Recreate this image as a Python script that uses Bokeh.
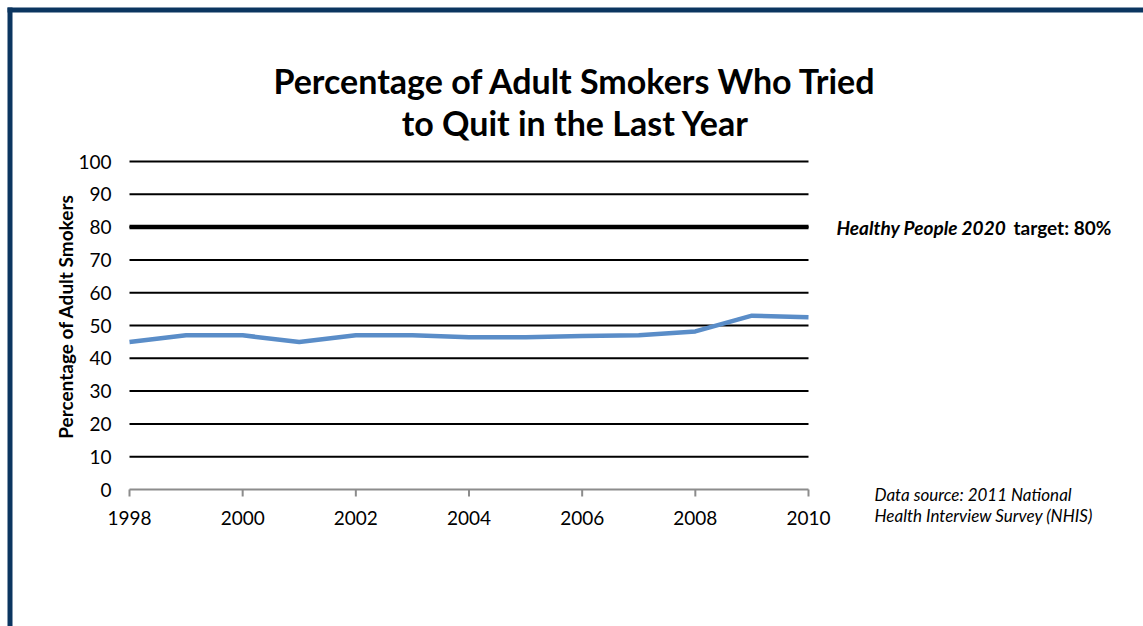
from math import pi
from bokeh.plotting import figure
from bokeh.models import Range1d, Label
from bokeh.core.properties import value
from bokeh.embed import file_html
from bokeh.resources import INLINE

# Survey years and share of adult smokers who tried to quit (%)
years = [1998, 1999, 2000, 2001, 2002, 2003, 2004, 2005, 2006, 2007, 2008, 2009, 2010]
quit_attempts = [45.0, 47.0, 47.0, 45.0, 47.0, 47.0, 46.4, 46.4, 46.8, 47.0, 48.2, 53.0, 52.5]
target_value = 80
x_ticks = [1998, 2000, 2002, 2004, 2006, 2008, 2010]
x_tick_labels = ["1998", "2000", "2002", "2004", "2006", "2008", "2010"]
y_ticks = [0, 10, 20, 30, 40, 50, 60, 70, 80, 90, 100]
y_tick_labels = ["0", "10", "20", "30", "40", "50", "60", "70", "80", "90", "100"]

W, H = 1143, 626
FL, FR, FT, FB = 129, 808, 161, 489   # chart area edges in pixels
FONT = "Lato"

x0, x1 = years[0], years[-1]
y0, y1 = y_ticks[0], y_ticks[-1]
px_x = (FR - FL) / (x1 - x0)
px_y = (FB - FT) / (y1 - y0)

def dx(px):
    return x0 + (px - FL) / px_x

def dy(py):
    return y0 + (FB - py) / px_y

# the plotting frame spans the whole canvas; the chart area sits inside it
p = figure(width=W, height=H, output_backend="svg", toolbar_location=None,
           x_range=Range1d(dx(0), dx(W)), y_range=Range1d(dy(H), dy(0)),
           x_axis_location=None, y_axis_location=None,
           min_border=0)
p.grid.visible = False
p.outline_line_color = None
p.background_fill_color = "white"
p.border_fill_color = "white"

# horizontal rules every 10 points (the 0 line is the x axis)
grid_vals = y_ticks[1:]
p.segment(x0=[x0] * len(grid_vals), x1=[x1] * len(grid_vals), y0=grid_vals, y1=grid_vals,
          line_color="black", line_width=2)

# target rule
p.segment(x0=[x0], x1=[x1], y0=[target_value], y1=[target_value],
          line_color="black", line_width=4.5)

# x axis line and ticks
gray = "#8c8c8c"
p.segment(x0=[x0], x1=[x1], y0=[y0], y1=[y0], line_color=gray, line_width=2)
tick_len = 7 / px_y
p.segment(x0=x_ticks, x1=x_ticks, y0=[y0] * len(x_ticks), y1=[y0 - tick_len] * len(x_ticks),
          line_color=gray, line_width=2)

# tick labels
p.text(x=x_ticks, y=[dy(517)] * len(x_ticks), text=x_tick_labels,
       text_align="center", text_baseline="middle", text_font=value(FONT),
       text_font_size="19px", text_color="black")
p.text(x=[dx(111)] * len(y_ticks), y=y_ticks, text=y_tick_labels,
       text_align="right", text_baseline="middle", text_font=value(FONT),
       text_font_size="19px", text_color="black")

# axis title
p.add_layout(Label(x=dx(65), y=dy(316), text="Percentage of Adult Smokers", angle=pi / 2,
                   text_align="center", text_baseline="middle", text_font=FONT,
                   text_font_size="19px", text_font_style="bold", text_color="black"))

# series
p.line(years, quit_attempts, line_color="#5a8dc8", line_width=4.5)

# chart title
for text, py in [("Percentage of Adult Smokers Who Tried", 80), ("to Quit in the Last Year", 122)]:
    p.add_layout(Label(x=dx(575), y=dy(py), text=text, text_align="center",
                       text_baseline="middle", text_font=FONT, text_font_size="34px",
                       text_font_style="bold", text_color="black"))

# target note
p.add_layout(Label(x=dx(836), y=target_value, text="Healthy People 2020",
                   text_align="left", text_baseline="middle", text_font=FONT,
                   text_font_size="19px", text_font_style="bold italic", text_color="black"))
p.add_layout(Label(x=dx(1013), y=target_value, text="target: 80%",
                   text_align="left", text_baseline="middle", text_font=FONT,
                   text_font_size="19px", text_font_style="bold", text_color="black"))

# source note
for text, py in [("Data source: 2011 National", 494), ("Health Interview Survey (NHIS)", 515)]:
    p.add_layout(Label(x=dx(874), y=dy(py), text=text, text_align="left",
                       text_baseline="middle", text_font=FONT, text_font_size="17px",
                       text_font_style="italic", text_color="black"))

# slide frame: navy bars along the top and left edges
navy = "#0b3560"
p.quad(left=[dx(7), dx(7)], right=[dx(W), dx(12)], top=[dy(7), dy(7)], bottom=[dy(12), dy(H)],
       fill_color=navy, line_color=None)

open("out.html", "w").write(file_html(p, INLINE))
